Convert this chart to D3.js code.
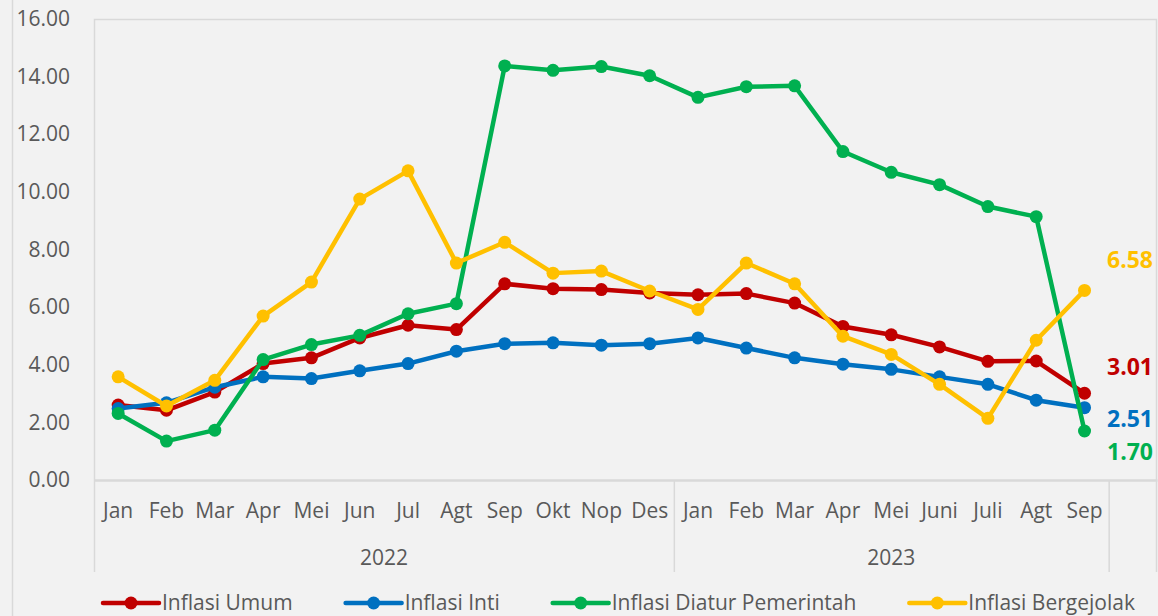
<!DOCTYPE html>
<html>
<head>
<meta charset="utf-8">
<script src="https://cdn.jsdelivr.net/npm/d3@7"></script>
<style>
  html, body { margin: 0; padding: 0; background: #f2f2f2; }
  svg { display: block; font-family: 'Open Sans', 'Noto Sans', sans-serif; }
</style>
</head>
<body>
<svg id="chart" width="1158" height="616"></svg>
<script>
var d3 = window.d3;

// data
var months2022 = ['Jan', 'Feb', 'Mar', 'Apr', 'Mei', 'Jun', 'Jul', 'Agt', 'Sep', 'Okt', 'Nop', 'Des'];
var months2023 = ['Jan', 'Feb', 'Mar', 'Apr', 'Mei', 'Juni', 'Juli', 'Agt', 'Sep'];
var years = ['2022', '2023'];

var inflasiUmum = [2.60, 2.42, 3.05, 4.04, 4.24, 4.93, 5.37, 5.22, 6.81, 6.64, 6.61, 6.49,
  6.43, 6.47, 6.14, 5.33, 5.04, 4.62, 4.12, 4.13, 3.01];
var inflasiInti = [2.48, 2.68, 3.22, 3.58, 3.52, 3.79, 4.04, 4.47, 4.73, 4.76, 4.68, 4.73,
  4.93, 4.58, 4.24, 4.02, 3.84, 3.58, 3.32, 2.77, 2.51];
var inflasiDiatur = [2.31, 1.35, 1.73, 4.18, 4.70, 5.02, 5.77, 6.12, 14.37, 14.22, 14.35, 14.03,
  13.28, 13.65, 13.68, 11.40, 10.68, 10.25, 9.49, 9.14, 1.70];
var inflasiBergejolak = [3.58, 2.57, 3.46, 5.69, 6.87, 9.75, 10.73, 7.53, 8.25, 7.18, 7.25, 6.56,
  5.92, 7.53, 6.81, 4.99, 4.36, 3.32, 2.14, 4.85, 6.58];

var seriesNames = ['Inflasi Umum', 'Inflasi Inti', 'Inflasi Diatur Pemerintah', 'Inflasi Bergejolak'];
var yTicks = [0, 2, 4, 6, 8, 10, 12, 14, 16];

// style
var colors = ['#c00000', '#0070c0', '#00b050', '#ffc000'];
var labelDy = [-26, 11, 21, -30];
var textColor = '#595959';
var lineColor = '#d9d9d9';

var svg = d3.select('#chart');
var margin = { left: 94, right: 1157, top: 19, bottom: 480 };

// categories: every month keyed with its year, plus one empty slot at the end
var cats = [];
months2022.forEach(function(m) { cats.push({ key: '2022-' + m, label: m, year: '2022' }); });
months2023.forEach(function(m) { cats.push({ key: '2023-' + m, label: m, year: '2023' }); });
var catsAll = cats.concat([{ key: 'blank', label: '', year: '' }]);

var xScale = d3.scaleBand()
  .domain(catsAll.map(function(c) { return c.key; }))
  .range([margin.left, margin.right]);

var yScale = d3.scaleLinear()
  .domain([0, 16])
  .range([margin.bottom, margin.top]);

function xc(i) {
  return xScale(cats[i].key) + xScale.bandwidth() / 2;
}

// chart area border (left edge)
svg.append('line')
  .attr('x1', 12.5).attr('x2', 12.5)
  .attr('y1', 0).attr('y2', 616)
  .attr('stroke', lineColor).attr('stroke-width', 1.5);

// plot area border
svg.append('path')
  .attr('d', 'M' + (margin.left + 0.5) + ',' + (margin.bottom) +
    'V' + (margin.top + 0.5) + 'H' + (margin.right - 0.5) + 'V' + margin.bottom)
  .attr('fill', 'none')
  .attr('stroke', lineColor)
  .attr('stroke-width', 1.5);

// y axis
var yAxis = d3.axisLeft(yScale)
  .tickValues(yTicks)
  .tickFormat(d3.format('.2f'))
  .tickSize(0)
  .tickPadding(24);

var yG = svg.append('g')
  .attr('transform', 'translate(' + margin.left + ',0)')
  .call(yAxis);
yG.select('.domain').remove();
yG.selectAll('text')
  .attr('fill', textColor)
  .style('font-size', '21px')
  .style('font-family', "'Open Sans', sans-serif");

// x axis (month level)
var xAxis = d3.axisBottom(xScale)
  .tickSize(0)
  .tickPadding(0)
  .tickFormat(function(k) {
    var c = catsAll.find(function(d) { return d.key === k; });
    return c ? c.label : '';
  });

var xG = svg.append('g')
  .attr('transform', 'translate(0,' + margin.bottom + ')')
  .call(xAxis);
xG.select('.domain')
  .attr('stroke', lineColor)
  .attr('stroke-width', 2.5);
xG.selectAll('text')
  .attr('y', 38)
  .attr('dy', 0)
  .attr('fill', textColor)
  .style('font-size', '21px')
  .style('font-family', "'Open Sans', sans-serif");

// group dividers and year labels
var groups = years.map(function(y) {
  var keys = cats.filter(function(c) { return c.year === y; }).map(function(c) { return c.key; });
  return { year: y, x0: xScale(keys[0]), x1: xScale(keys[keys.length - 1]) + xScale.bandwidth() };
});
var dividers = [margin.left, groups[0].x1, groups[1].x1, margin.right];

svg.append('g').selectAll('line')
  .data(dividers)
  .enter().append('line')
  .attr('x1', function(d, i) { return i === dividers.length - 1 ? d - 0.5 : d + 0.5; })
  .attr('x2', function(d, i) { return i === dividers.length - 1 ? d - 0.5 : d + 0.5; })
  .attr('y1', margin.bottom)
  .attr('y2', 572)
  .attr('stroke', lineColor)
  .attr('stroke-width', 1.5);

svg.append('g').selectAll('text')
  .data(groups)
  .enter().append('text')
  .attr('x', function(d) { return (d.x0 + d.x1) / 2; })
  .attr('y', 565)
  .attr('text-anchor', 'middle')
  .attr('fill', textColor)
  .style('font-size', '21px')
  .text(function(d) { return d.year; });

// series
var allSeries = [inflasiUmum, inflasiInti, inflasiDiatur, inflasiBergejolak];

var line = d3.line()
  .x(function(d, i) { return xc(i); })
  .y(function(d) { return yScale(d); });

allSeries.forEach(function(values, s) {
  var g = svg.append('g').attr('class', 'series-' + s);
  g.append('path')
    .datum(values)
    .attr('d', line)
    .attr('fill', 'none')
    .attr('stroke', colors[s])
    .attr('stroke-width', 4.5)
    .attr('stroke-linejoin', 'round');
  g.selectAll('circle')
    .data(values)
    .enter().append('circle')
    .attr('cx', function(d, i) { return xc(i); })
    .attr('cy', function(d) { return yScale(d); })
    .attr('r', 6.5)
    .attr('fill', colors[s]);
});

// end labels
svg.append('g').selectAll('text')
  .data(allSeries)
  .enter().append('text')
  .attr('x', 1107)
  .attr('y', function(d, s) { return yScale(d[d.length - 1]) + labelDy[s]; })
  .attr('dy', '0.35em')
  .attr('fill', function(d, s) { return colors[s]; })
  .style('font-size', '23px')
  .style('font-weight', 'bold')
  .text(function(d) { return d[d.length - 1].toFixed(2); });

// legend
var legend = svg.append('g').attr('transform', 'translate(103,603)');
var lx = 0;
seriesNames.forEach(function(name, s) {
  var item = legend.append('g').attr('transform', 'translate(' + lx + ',0)');
  item.append('line')
    .attr('x1', 0).attr('x2', 56)
    .attr('y1', 0).attr('y2', 0)
    .attr('stroke', colors[s])
    .attr('stroke-width', 4.5)
    .attr('stroke-linecap', 'round');
  item.append('circle')
    .attr('cx', 28).attr('cy', 0)
    .attr('r', 6.5)
    .attr('fill', colors[s]);
  var t = item.append('text')
    .attr('x', 59)
    .attr('dy', '0.35em')
    .attr('fill', textColor)
    .style('font-size', '21px')
    .text(name);
  lx += 59 + t.node().getComputedTextLength() + 53;
});
</script>
</body>
</html>
